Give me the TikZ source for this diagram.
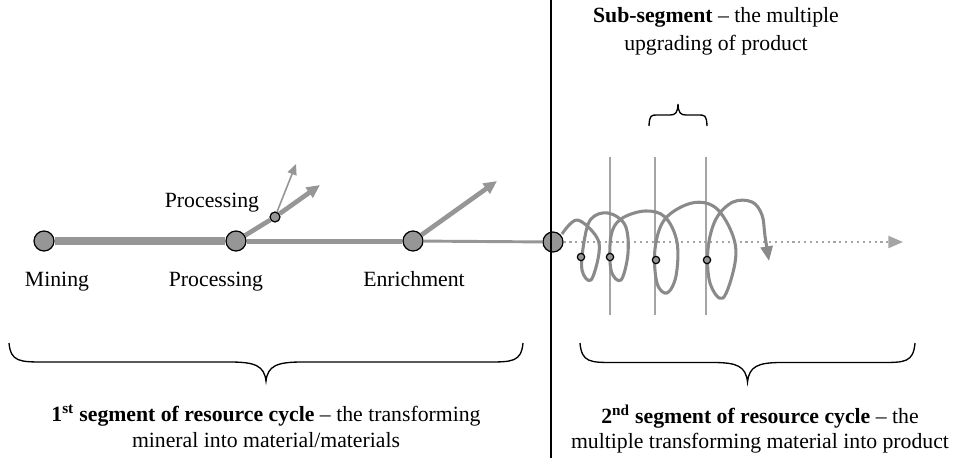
\documentclass[tikz,border=0pt]{standalone}
\usepackage{fontspec}
\setmainfont{Liberation Serif}
\usetikzlibrary{arrows.meta}
\definecolor{linegray}{RGB}{150,150,150}
\definecolor{dotgray}{RGB}{165,165,165}

\begin{document}
\begin{tikzpicture}[x=0.75pt, y=-0.75pt,
    stage/.style={circle, draw=black, fill=linegray, line width=0.9pt, minimum size=15pt, inner sep=0pt},
    ring/.style={circle, draw=black, fill=linegray, line width=0.9pt, minimum size=5.5pt, inner sep=0pt},
    lbl/.style={font=\fontsize{16.3}{19}\selectfont, inner sep=0pt, align=center},
    flow/.style={draw=linegray},
    tip/.style={-{Triangle[length=10pt, width=9pt]}},
    guide/.style={draw=dotgray, line width=1.1pt},
    bracepath/.style={draw=black, line width=1pt}
  ]
    \useasboundingbox (0,0) rectangle (968,458);

    % first segment: stages on the main line
    \node[stage] (mining) at (44,241) {};
    \node[stage] (proc) at (236,241) {};
    \node[stage] (enrich) at (413,241) {};
    \node[stage] (seg) at (553,242) {};
    \node[ring, minimum size=7.5pt] (sub) at (275,217) {};
    \coordinate (t1) at (320,185);
    \coordinate (t2) at (296,164);
    \coordinate (t3) at (497,181);

    \draw[flow, line width=6pt] (mining) -- (proc);
    \draw[flow, line width=3.75pt] (proc) -- (enrich);
    \draw[flow, line width=2.2pt] (enrich) -- (seg);
    \draw[flow, line width=3.5pt] (proc) -- (sub);
    \draw[flow, line width=3.5pt, tip] (sub) -- (t1);
    \draw[flow, line width=1.2pt, -{Triangle[length=8pt, width=7pt]}] (sub) -- (t2);
    \draw[flow, line width=3.5pt, tip] (enrich) -- (t3);

    \node[lbl, anchor=base] (lmining) at (57,286) {Mining};
    \node[lbl, anchor=base] (lproc) at (216,286) {Processing};
    \node[lbl, anchor=base] (lenrich) at (414,286) {Enrichment};
    \node[lbl, anchor=base] (lsub) at (212,207) {Processing};

    % border between the two segments
    \draw[black, line width=1.1pt] (551,0) -- (551,458);

    % second segment: upgrading loops
    \foreach \x in {610,655,706} {
        \draw[guide] (\x,157) -- (\x,315);
    }
    \coordinate (dotend) at (903,242);
    \draw[dotgray, line width=1.6pt, dash pattern=on 1.6pt off 2.8pt, -{Triangle[length=11pt, width=9pt]}] (seg) -- (dotend);
    \draw[draw=linegray!92!black, line width=2.3pt, line join=round, -{Triangle[length=11pt, width=9pt]}]
        plot[smooth, tension=0.6] coordinates {(562,234) (577,220) (596,236) (599,253) (591,280) (582,270)
        (584,242) (591,219) (608,213) (625,225) (628,253) (621,280) (611,270) (611,236) (621,219)
        (645,211) (665,217) (677,242) (676,276) (667,293) (657,283) (655,249) (665,219) (692,203)
        (716,208) (733,236) (735,263) (723,298) (710,283) (708,249) (716,219) (733,202) (752,202)
        (762,215) (765,236) (769,261)};
    \foreach \x/\y [count=\i] in {581/257, 610/257, 656/260, 707/260} {
        \node[ring] (s\i) at (\x,\y) {};
    }

    % braces
    \foreach \xa/\xb/\ya/\h/\w in {9/523/343/38/36, 580/915/343/39/34, 649/707/126/-22/8} {
        \pgfmathsetmacro\xm{(\xa+\xb)/2}
        \draw[bracepath] (\xa,\ya) .. controls (\xa+0.05*\w,\ya+0.5*\h) and (\xa+0.3*\w,\ya+0.5*\h) .. (\xa+\w,\ya+0.5*\h)
            -- (\xm-\w,\ya+0.5*\h) .. controls (\xm-0.3*\w,\ya+0.5*\h) and (\xm-0.05*\w,\ya+0.6*\h) .. (\xm,\ya+\h)
            .. controls (\xm+0.05*\w,\ya+0.6*\h) and (\xm+0.3*\w,\ya+0.5*\h) .. (\xm+\w,\ya+0.5*\h)
            -- (\xb-\w,\ya+0.5*\h) .. controls (\xb-0.3*\w,\ya+0.5*\h) and (\xb-0.05*\w,\ya+0.5*\h) .. (\xb,\ya);
    }

    \node[lbl, font=\fontsize{16.3}{21}\selectfont] (subtitle) at (716,31) {\textbf{Sub-segment} -- the multiple\\upgrading of product};
    \node[lbl] (first) at (266,426) {\textbf{1\textsuperscript{st} segment of resource cycle} -- the transforming\\mineral into material/materials};
    \node[lbl] (second) at (760,429) {\textbf{2\textsuperscript{nd} segment of resource cycle} -- the\\multiple transforming material into product};
\end{tikzpicture}
\end{document}
